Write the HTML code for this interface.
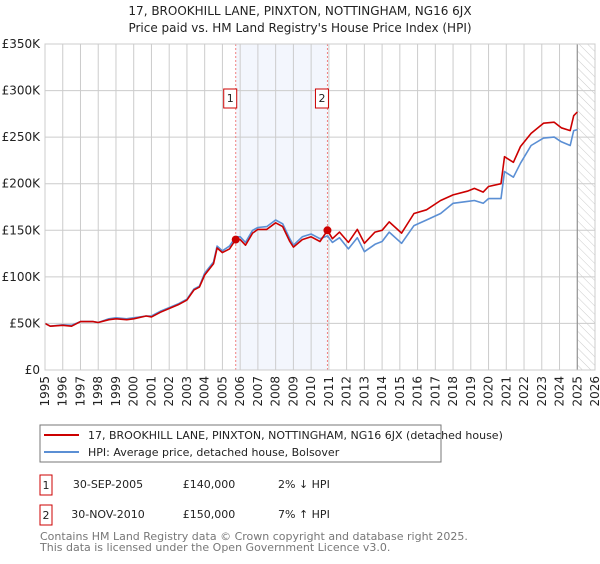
<!DOCTYPE html>
<html><head><meta charset="utf-8"><style>
body{margin:0;background:#fff;width:600px;height:560px;overflow:hidden;font-family:"DejaVu Sans","Liberation Sans",sans-serif;}
svg text{font-family:"DejaVu Sans","Liberation Sans",sans-serif;}
</style></head><body>
<svg id="c" width="600" height="560" xmlns="http://www.w3.org/2000/svg">
<defs><pattern id="hatch" width="6" height="6" patternUnits="userSpaceOnUse" patternTransform="rotate(-45)"><line x1="0" y1="0" x2="0" y2="6" stroke="#ccc" stroke-width="1"/></pattern></defs>
<text x="300" y="15" text-anchor="middle" font-size="12" fill="#222">17, BROOKHILL LANE, PINXTON, NOTTINGHAM, NG16 6JX</text>
<text x="300" y="32" text-anchor="middle" font-size="12" fill="#222">Price paid vs. HM Land Registry's House Price Index (HPI)</text>
<g id="plot"></g>
<rect x="40" y="425" width="401" height="37" fill="#fff" stroke="#777"/>
<line x1="44" y1="435" x2="79" y2="435" stroke="#cc0000" stroke-width="2"/>
<text x="88" y="439" font-size="11" fill="#222">17, BROOKHILL LANE, PINXTON, NOTTINGHAM, NG16 6JX (detached house)</text>
<line x1="44" y1="452" x2="79" y2="452" stroke="#5b8fd4" stroke-width="2"/>
<text x="88" y="456" font-size="11" fill="#222">HPI: Average price, detached house, Bolsover</text>
<rect x="40" y="475" width="12" height="20" fill="#fff" stroke="#cc0000"/>
<text x="46" y="489" text-anchor="middle" font-size="11" fill="#222">1</text>
<text x="108" y="488" text-anchor="middle" font-size="11" fill="#222">30-SEP-2005</text>
<text x="209" y="488" text-anchor="middle" font-size="11" fill="#222">£140,000</text>
<text x="278" y="488" font-size="11" fill="#222">2% ↓ HPI</text>
<rect x="40" y="505" width="12" height="20" fill="#fff" stroke="#cc0000"/>
<text x="46" y="519" text-anchor="middle" font-size="11" fill="#222">2</text>
<text x="108" y="518" text-anchor="middle" font-size="11" fill="#222">30-NOV-2010</text>
<text x="209" y="518" text-anchor="middle" font-size="11" fill="#222">£150,000</text>
<text x="278" y="518" font-size="11" fill="#222">7% ↑ HPI</text>
<text x="40" y="540" font-size="11" fill="#777">Contains HM Land Registry data © Crown copyright and database right 2025.</text>
<text x="40" y="551" font-size="11" fill="#777">This data is licensed under the Open Government Licence v3.0.</text>
</svg>
<script>
const years=[1995.0,1995.3,1996.0,1996.5,1997.0,1997.7,1998.0,1998.6,1999.0,1999.6,2000.0,2000.7,2001.0,2001.5,2002.0,2002.5,2003.0,2003.4,2003.7,2004.0,2004.5,2004.7,2005.0,2005.4,2005.75,2006.0,2006.3,2006.7,2007.0,2007.5,2008.0,2008.4,2008.8,2009.0,2009.5,2010.0,2010.5,2010.92,2011.2,2011.6,2012.1,2012.6,2013.0,2013.6,2014.0,2014.4,2015.1,2015.8,2016.5,2017.3,2018.0,2018.8,2019.2,2019.7,2020.0,2020.7,2020.9,2021.4,2021.8,2022.4,2023.1,2023.7,2024.1,2024.6,2024.8,2025.0];
const hpiValues=[50,47,48.5,48,52,52,51,55,56,55,56,58,58,63,67,71,76,87,90,104,116,133,128,133,143,143,137,150,153,154,161,157,141,134,143,146,141,144,137,142,130,142,127,135,138,148,136,155,161,168,179,181,182,179,184,184,213,207,222,241,249,250,245,241,257,258];
const priceValues=[50,47,48,47,52,52,51,54,55,54,55,58,57,62,66,70,75,86,89,102,114,131,126,130,140,140,134,147,151,151,158,154,138,132,140,143,138,150,141,148,137,151,136,148,150,159,147,168,172,182,188,192,195,191,197,200,229,223,240,254,265,266,260,257,273,277];
const yTicks=[0,50,100,150,200,250,300,350];
const yTickLabels=["£0","£50K","£100K","£150K","£200K","£250K","£300K","£350K"];
const xTicks=[1995,1996,1997,1998,1999,2000,2001,2002,2003,2004,2005,2006,2007,2008,2009,2010,2011,2012,2013,2014,2015,2016,2017,2018,2019,2020,2021,2022,2023,2024,2025,2026];
const saleYears=[2005.75,2010.92];
const salePrices=[140,150];
const saleLabels=["1","2"];
const dataEnd=2025.0;

const X0=45,X1=595,Y0=370,Y1=44;
const xs=y=>X0+(y-1995)/(2026-1995)*(X1-X0);
const ys=v=>Y0-v/350*(Y0-Y1);
const NS="http://www.w3.org/2000/svg";
const g=document.getElementById('plot');
function mk(t,a){const e=document.createElementNS(NS,t);for(const k in a)e.setAttribute(k,a[k]);g.appendChild(e);return e;}

let band=mk('rect',{x:xs(saleYears[0]),y:Y1,width:xs(saleYears[1])-xs(saleYears[0]),height:Y0-Y1,fill:'#f3f6fd'});


let hat=mk('rect',{x:xs(dataEnd),y:Y1,width:X1-xs(dataEnd),height:Y0-Y1,fill:'url(#hatch)'});



yTicks.forEach((v,i)=>{
 let l=mk('line',{x1:X0,x2:X1,y1:ys(v),y2:ys(v),stroke:'#ccc','stroke-width':1});
 
 
 let t=mk('text',{x:X0-5,y:ys(v)+4,'text-anchor':'end','font-size':12,fill:'#222'});
 t.textContent=yTickLabels[i];
 
 
});
xTicks.forEach(yr=>{
 let l=mk('line',{x1:xs(yr),x2:xs(yr),y1:Y1,y2:Y0,stroke:'#ccc','stroke-width':1});
 
 
 let t=mk('text',{x:0,y:0,'text-anchor':'end','font-size':12,fill:'#222',transform:`translate(${xs(yr)+4},${Y0+6}) rotate(-90)`});
 t.textContent=yr;
 
 
});
let el=mk('line',{x1:xs(dataEnd),x2:xs(dataEnd),y1:Y1,y2:Y0,stroke:'#888','stroke-width':1});



saleYears.forEach((sy,i)=>{
 let l=mk('line',{x1:xs(sy),x2:xs(sy),y1:Y1,y2:Y0,stroke:'#f08080','stroke-width':1,'stroke-dasharray':'2,2'});
 
 
});

function path(vals,color,name){
 const d=years.map((y,i)=>(i?'L':'M')+xs(y).toFixed(1)+','+ys(vals[i]).toFixed(1)).join('');
 let p=mk('path',{d:d,fill:'none',stroke:color,'stroke-width':1.6,'stroke-linejoin':'round'});
 
 
}
path(hpiValues,'#5b8fd4','hpi-line');
path(priceValues,'#cc0000','price-paid-line');

saleYears.forEach((sy,i)=>{
 let c=mk('circle',{cx:xs(sy),cy:ys(salePrices[i]),r:4,fill:'#cc0000'});
 
 
 let b=mk('rect',{x:xs(sy)-12,y:89,width:13,height:19,fill:'#fff',stroke:'#cc0000'});
 
 
 let t=mk('text',{x:xs(sy)-5.5,y:102,'text-anchor':'middle','font-size':11,fill:'#222'});
 t.textContent=saleLabels[i];
 
 
});
let fr=mk('rect',{x:X0,y:Y1,width:X1-X0,height:Y0-Y1,fill:'none',stroke:'#ccc'});


</script>
</body></html>
